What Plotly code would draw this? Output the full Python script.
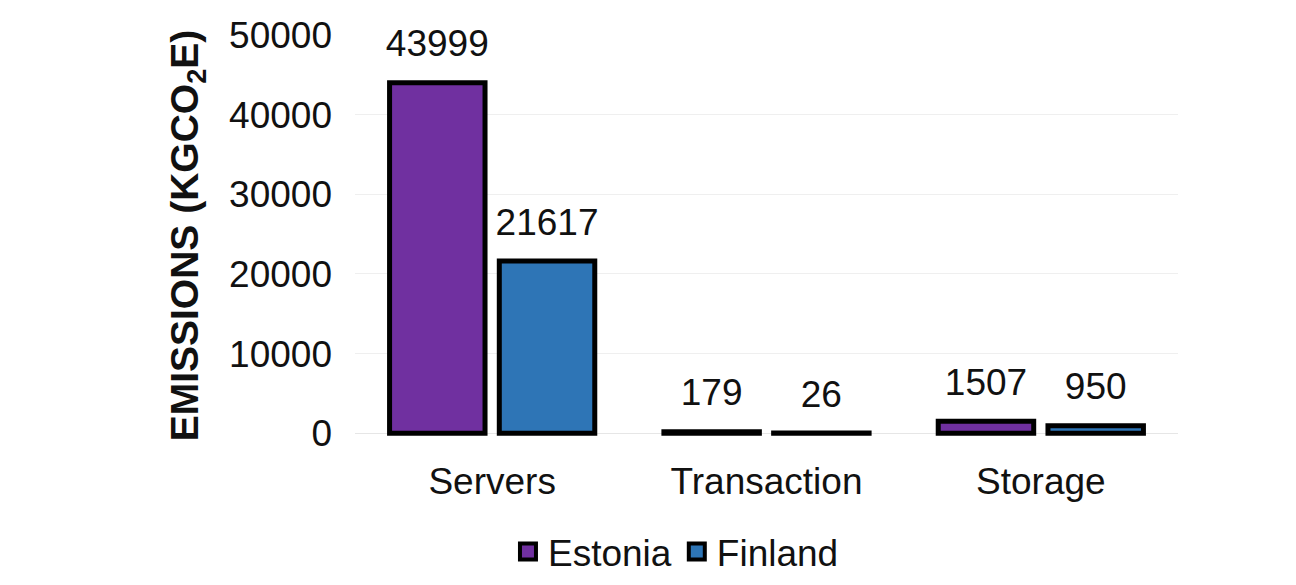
import plotly.graph_objects as go

categories = ["Servers", "Transaction", "Storage"]
estonia = [43999, 179, 1507]
finland = [21617, 26, 950]
y_ticks = [0, 10000, 20000, 30000, 40000, 50000]

FONT = "Liberation Sans, Arial, sans-serif"
GAP = 0.2
series = [("Estonia", estonia, "#7030A0"), ("Finland", finland, "#2E75B6")]

fig = go.Figure()
for name, vals, col in series:
    fig.add_trace(go.Bar(
        name=name, x=categories, y=vals, offsetgroup=name,
        marker=dict(color=col, line=dict(color="black", width=5)),
        hoverinfo="x+y", showlegend=False,
    ))
for name, vals, col in series:
    fig.add_trace(go.Scatter(
        x=categories, y=vals, offsetgroup=name, mode="markers+text",
        text=[str(v) for v in vals], textposition="top center",
        textfont=dict(size=37, color="#111111", family=FONT),
        marker=dict(size=26, color="rgba(0,0,0,0)"),
        showlegend=False, hoverinfo="skip", cliponaxis=False,
    ))
# legend entries (square swatches with thick black outline)
for name, vals, col in series:
    fig.add_trace(go.Scatter(
        x=[None], y=[None], name=name, offsetgroup=name, mode="markers",
        marker=dict(symbol="square", size=16, color=col, line=dict(color="black", width=4)),
        showlegend=True, hoverinfo="skip",
    ))

fig.update_layout(
    width=1296, height=585,
    paper_bgcolor="white", plot_bgcolor="white",
    margin=dict(l=347, r=126, t=27, b=157, autoexpand=False),
    barmode="group", bargap=GAP, bargroupgap=0.13,
    scattermode="group", scattergap=GAP,
    font=dict(family=FONT, size=37, color="#111111"),
    showlegend=True,
    legend=dict(orientation="h", x=0.39, xanchor="center",
                yref="container", y=1 - 544 / 585, yanchor="middle",
                font=dict(size=37, family=FONT), itemwidth=30, traceorder="normal",
                itemsizing="trace"),
    xaxis=dict(showgrid=False, showline=False, ticks="", tickfont=dict(size=37),
               ticklabelstandoff=20),
    yaxis=dict(range=[-350, 50000], tickvals=y_ticks, tickformat="d", showgrid=True,
               gridcolor="#efefef", gridwidth=1, zeroline=True, zerolinecolor="#e6e6e6",
               zerolinewidth=1, tickfont=dict(size=37), ticklabelstandoff=22,
               title=dict(text="<b>EMISSIONS (KGCO<sub>2</sub>E)</b>", font=dict(size=39),
                          standoff=18)),
)

fig.write_html("out.html")
